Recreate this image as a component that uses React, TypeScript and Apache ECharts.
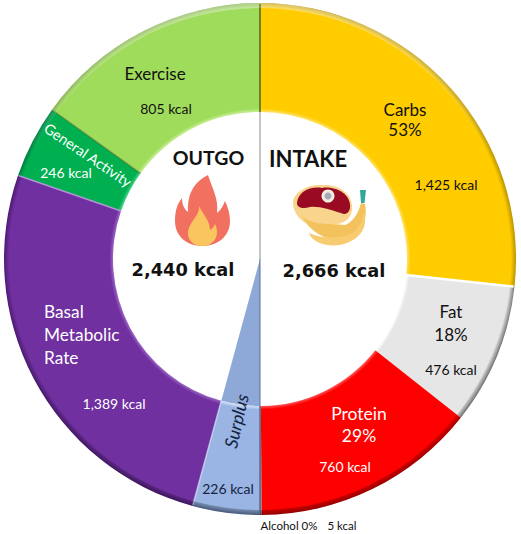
import React, { useEffect, useRef } from "react";
import * as echarts from "echarts";

const categories = ["Carbs", "Fat", "Protein", "Alcohol", "Surplus", "Basal Metabolic Rate", "General Activity", "Exercise"];
const kcalValues = [1425, 476, 760, 5, 226, 1389, 246, 805];
const kcalLabels = ["1,425 kcal", "476 kcal", "760 kcal", "5 kcal", "226 kcal", "1,389 kcal", "246 kcal", "805 kcal"];
const percentLabels = ["53%", "18%", "29%", "0%"];
const totals = ["2,666 kcal", "2,440 kcal"];
const headings = ["INTAKE", "OUTGO"];

const CX = 260, CY = 259, RO = 256, RI = 147;
const baseColors = ["#FFCC00", "#E6E6E6", "#FF0000", "#7F7F7F", "#9AB5E4", "#7030A0", "#00B050", "#A0DC5C"];
const hiColors = ["#FFE36A", "#FFFFFF", "#FF5A5A", "#AAAAAA", "#D3E0F5", "#9A64C4", "#4CD08A", "#C8EE96"];
const rimColors = ["#B89400", "#7A7A7A", "#B80000", "#444444", "#5A7099", "#4C1A74", "#007A40", "#78A83C"];
const seamColors = ["#FFFFFF", "rgba(255,255,255,0)", "rgba(255,255,255,0)", "rgba(70,90,130,0.6)", "rgba(210,225,250,0.7)", "rgba(190,150,225,0.9)", "rgba(70,100,30,0.5)", "rgba(60,90,20,0.6)"];

const FLAME_OUT = "M208 175 C196 181 187 192 188 212 C184 209 182 204 182 198 C176 205 175 214 175 221 C175 236 187 246 202 246 C218 246 230 236 230 221 C230 214 228 207 225 201 C223 206 221 210 217 213 C219 199 212 188 208 175 Z";
const FLAME_IN = "M199 206 C200 216 190 220 188 232 C187 240 194 246 202 246 C211 246 217 240 217 232 C217 229 216 226 215 224 C214 227 212 229 210 230 C210 221 203 214 199 206 Z";
const CREAM = "M293 203 C293 192 308 184 322 185 C335 184 350 190 352 205 C353 215 348 222 338 224 C325 226 318 221 312 226 C300 222 293 212 293 203 Z";
const BANANA_BACK = "M302 216 C312 226 330 223 345 225 C353 222 358 214 361 203 L365 204 C368 220 362 236 345 240 C325 241 310 232 302 216 Z";
const BANANA = "M309 233 C325 240 345 238 354 232 C358 229 363 220 364 212 C368 226 362 240 340 245 C325 247 312 242 309 233 Z";
const STEAK = "M297 203 C298 192 310 186 322 188 C330 186 348 190 350 204 C351 212 346 216 341 213 C330 210 320 206 310 207 C303 209 297 208 297 203 Z";
const STEM = "M360 190 L366 190 L364.5 203 L361 203 Z";
echarts.graphic.registerShape("flameOut", echarts.graphic.extendPath(FLAME_OUT, {}));
echarts.graphic.registerShape("flameIn", echarts.graphic.extendPath(FLAME_IN, {}));
echarts.graphic.registerShape("cream", echarts.graphic.extendPath(CREAM, {}));
echarts.graphic.registerShape("bananaBack", echarts.graphic.extendPath(BANANA_BACK, {}));
echarts.graphic.registerShape("banana", echarts.graphic.extendPath(BANANA, {}));
echarts.graphic.registerShape("steak", echarts.graphic.extendPath(STEAK, {}));
echarts.graphic.registerShape("stem", echarts.graphic.extendPath(STEM, {}));

const FONT = "Lato";
const txt = (text: string, x: number, y: number, fill: string, size: number, extra: any = {}, styleExtra: any = {}) => ({
  type: "text", x, y, z: 20, ...extra,
  style: { text, fill, font: `${size}px ${FONT}`, align: "center", verticalAlign: "middle", ...styleExtra },
});
const head = (text: string, x: number, y: number, font: string) => ({
  type: "text", x, y, z: 20,
  style: { text, fill: "#111111", font, align: "center", verticalAlign: "middle" },
});
const shape = (type: string, fill: string) => ({ type, x: 0, y: 0, z: 15, style: { fill } });

const seams = () => {
  const total = kcalValues.reduce((a, b) => a + b, 0);
  let acc = 0;
  return kcalValues.map((v, i) => {
    acc += v;
    const a = (acc / total) * 2 * Math.PI;
    return {
      type: "line", z: 11, silent: true,
      shape: {
        x1: CX + RI * Math.sin(a), y1: CY - RI * Math.cos(a),
        x2: CX + (RO - 1) * Math.sin(a), y2: CY - (RO - 1) * Math.cos(a),
      },
      style: { stroke: seamColors[i], lineWidth: i === 0 ? 2.5 : 1.5 },
    };
  });
};

export default function App() {
  const ref = useRef<HTMLDivElement>(null);
  useEffect(() => {
    const chart = echarts.init(ref.current!, undefined, { renderer: "svg" });
    const k = RI / RO;
    chart.setOption({
      animation: false,
      backgroundColor: "#FFFFFF",
      series: [
        {
          type: "pie", silent: true, center: [CX, CY], radius: [RI, RO], startAngle: 90,
          label: { show: false }, labelLine: { show: false }, z: 2,
          data: categories.map((name, i) => ({
            name, value: kcalValues[i],
            itemStyle: {
              color: {
                type: "radial", x: CX, y: CY, r: RO, global: true,
                colorStops: [
                  { offset: k, color: hiColors[i] },
                  { offset: k + 0.014, color: baseColors[i] },
                  { offset: 0.98, color: baseColors[i] },
                  { offset: 1, color: rimColors[i] },
                ],
              },
            },
          })),
        },
        {
          type: "pie", silent: true, center: [CX, CY], radius: [0, RI], startAngle: 90,
          label: { show: false }, labelLine: { show: false }, z: 1,
          data: categories.map((name, i) => ({
            name: name + " centre", value: kcalValues[i],
            itemStyle: { color: name === "Surplus" ? "#8EA9D8" : "rgba(0,0,0,0)" },
          })),
        },
      ],
      graphic: {
        elements: [
          {
            type: "ring", z: 12, silent: true, shape: { cx: CX, cy: CY, r: RO, r0: RO - 5 },
            style: {
              fill: {
                type: "linear", x: 0, y: 0, x2: 0, y2: 1,
                colorStops: [
                  { offset: 0, color: "rgba(255,255,255,0.4)" },
                  { offset: 0.3, color: "rgba(255,255,255,0)" },
                  { offset: 0.6, color: "rgba(0,0,0,0)" },
                  { offset: 1, color: "rgba(0,0,0,0.22)" },
                ],
              },
            },
          },
          ...seams(),
          { type: "line", z: 13, silent: true, shape: { x1: CX, y1: CY - RO + 1, x2: CX, y2: CY - RI }, style: { stroke: "#4E6B1E", lineWidth: 1 } },
          { type: "line", z: 13, silent: true, shape: { x1: CX, y1: CY - RI, x2: CX, y2: CY }, style: { stroke: "#8A8A8A", lineWidth: 1 } },
          { type: "line", z: 13, silent: true, shape: { x1: CX, y1: CY, x2: CX, y2: CY + RO - 1 }, style: { stroke: "#5F7093", lineWidth: 1 } },

          shape("flameOut", "#F2705F"),
          shape("flameIn", "#FAC55E"),
          shape("cream", "#F9D48C"),
          shape("bananaBack", "#F4C25C"),
          shape("banana", "#F7CC70"),
          shape("steak", "#9A0A22"),
          shape("stem", "#2FA89A"),
          { type: "circle", z: 16, shape: { cx: 328, cy: 196, r: 6.5 }, style: { fill: "#F3EDE0" } },
          { type: "circle", z: 17, shape: { cx: 328, cy: 196, r: 3.5 }, style: { fill: "#A3ABB8" } },

          head(headings[1], 208.5, 157, `bold 19.5px ${FONT}`),
          head(headings[0], 308, 158, `bold 22px ${FONT}`),
          head(totals[1], 183, 269, `bold 17.8px "DejaVu Sans"`),
          head(totals[0], 334, 270, `bold 17.8px "DejaVu Sans"`),

          txt(categories[7], 155, 73, "#111111", 17),
          txt(kcalLabels[7], 166, 108, "#111111", 14),

          txt(categories[0], 405, 109, "#111111", 17),
          txt(percentLabels[0], 405, 129, "#111111", 17),
          txt(kcalLabels[0], 446, 184, "#111111", 14),

          txt(categories[1], 451, 311, "#111111", 17),
          txt(percentLabels[1], 451, 334, "#111111", 17),
          txt(kcalLabels[1], 451, 369, "#111111", 14),

          txt(categories[2], 359, 413, "#FFFFFF", 17.5),
          txt(percentLabels[2], 359, 435, "#FFFFFF", 17.5),
          txt(kcalLabels[2], 345, 466, "#FFFFFF", 14),

          txt(categories[4], 236, 421, "#14233F", 18, { rotation: (77 * Math.PI) / 180 }, { font: `italic 18px ${FONT}` }),
          txt(kcalLabels[4], 228, 488, "#14233F", 14),

          txt("Basal", 44, 311, "#FFFFFF", 17.3, {}, { align: "left" }),
          txt("Metabolic", 44, 334, "#FFFFFF", 17.3, {}, { align: "left" }),
          txt("Rate", 44, 357, "#FFFFFF", 17.3, {}, { align: "left" }),
          txt(kcalLabels[5], 114, 403, "#FFFFFF", 14),

          txt(categories[6], 88, 155, "#FFFFFF", 14.5, { rotation: (-34 * Math.PI) / 180 }),
          txt(kcalLabels[6], 66, 172, "#FFFFFF", 14),

          txt(`${categories[3]} ${percentLabels[3]}`, 289, 525, "#111111", 11.5),
          txt(kcalLabels[3], 342, 525, "#111111", 11.5),
        ],
      },
    });
    return () => chart.dispose();
  }, []);
  return <div ref={ref} style={{ position: "absolute", left: 0, top: 0, width: 521, height: 534 }} />;
}
